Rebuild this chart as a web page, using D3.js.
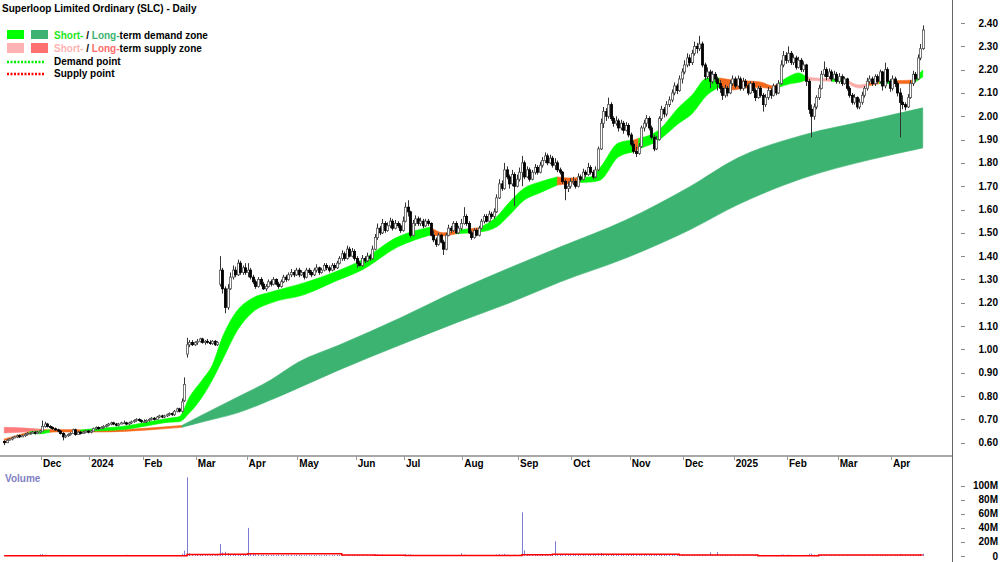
<!DOCTYPE html>
<html>
<head>
<meta charset="utf-8">
<script src="https://cdn.jsdelivr.net/npm/d3@7"></script>
<style>
	body { margin: 0; background: #fff; }
	svg { display: block; font-family: "Liberation Sans", Arial, sans-serif; font-weight: bold; font-size: 10px; }
</style>
</head>
<body>
<svg id="chart" width="1000" height="562"></svg>
<script>
// daily candles per month: [open, high, low, close, volume in M], prices in cents
var nov2023 = [[60.5,61,59,60,1.5],[60,61.5,60,61,1.2],[61,62,61,61.5,1.0],[61.5,62.5,61,62,1.3],[62,63,62,62.5,0.9],
	[62.5,63.5,62,63,1.1],[63,63.5,62,62.5,1.4],[62.5,63.5,62.5,63,1.0],[63,64,62.5,63.5,0.8],[63.5,64.5,63,64,1.2],
	[64,64.5,63.5,64,1.1],[64,65,64,64.5,0.9],[64.5,65,63.5,64,1.0],[64,65,64,64.5,1.3],[64.5,65.5,64,65,2.5]];
var dec2023 = [[65,69.5,65,67,2.8],[67,69,66.5,68,1.8],[68,68.5,66.5,67,1.2],[67,67.5,66,66.5,1.0],[66.5,67,65.5,66,0.9],
	[66,66.5,65,65.5,1.1],[65.5,66,64.5,65,1.0],[65,65.5,63.5,64,1.3],[64,64.5,61,62.5,1.6],[62.5,63.5,62,63,1.2],
	[63,64,62.5,63.5,0.9],[63.5,64.5,63,64,1.0],[64,66,64,65.5,1.1],[65.5,66,63,63.5,1.2],[63.5,65,63.5,64.5,0.9],
	[64.5,65,63.5,64,0.8],[64,65,64,64.5,0.7],[64.5,65.5,64,65,0.9],[65,65.5,64,64.5,0.8]];
var jan2024 = [[64.5,65.5,64,65,1.0],[65,66.5,65,66,1.1],[66,67,65.5,66.5,0.9],[66.5,67,65.5,66,0.8],[66,67,66,66.5,0.9],
	[66.5,67.5,66,67,1.0],[67,68,66.5,67.5,1.2],[67.5,68.5,67,68,1.1],[68,69,67.5,68.5,1.3],[68.5,69,67.5,68,1.0],
	[68,68.5,67,67.5,0.9],[67.5,68.5,67,68,0.8],[68,69,68,68.5,1.0],[68.5,69.5,68,68.5,1.2],[68.5,69,67.5,68,1.9],
	[68,69,67.5,68.5,1.0],[68.5,69.5,68,69,1.1],[69,70,68.5,69.5,1.2],[69.5,70.5,69,70,1.3],[70,70.5,69,69.5,1.0],
	[69.5,70,68.5,69,0.9]];
var feb2024 = [[69,70,68.5,69,1.0],[69,70,68.5,69.5,1.1],[69.5,70.5,69,70,1.0],[70,71,69.5,70.5,1.2],[70.5,71,69.5,70,0.9],
	[70,71.5,70,71,1.1],[71,72,70.5,71.5,1.0],[71.5,72,70.5,71,0.9],[71,72,70.5,71.5,1.0],[71.5,72.5,71,72,1.2],
	[72,73,71.5,72.5,1.1],[72.5,73,71.5,72,1.0],[72,74,71.5,73.5,1.3],[73.5,75,73,74.5,1.5],[74.5,75,73,73.5,1.4],
	[73.5,79,73,77.5,3.0],[78,88,77.5,85,7.5],[98,105,96.5,102,112],[102,104,101,103,4.0],[103,104,101.5,102,2.5],
	[102,103.5,101.5,103,2.0]];
var mar2024 = [[103,104.5,102,103.5,1.8],[103.5,105,103,104.5,1.5],[104.5,105,102.5,103,1.6],[103,104,102,103.5,1.2],[103.5,104.5,102.5,103,1.0],
	[103,104,102,102.5,1.1],[102.5,104,102,103.5,1.3],[103.5,104,101.5,102,1.2],[102,103.5,101.5,103,1.4],[128,140,127,134,17],
	[134,135,124,126,5],[126,127,115.5,118,6],[118,128,117,126,4],[126,133,125.5,131,3],[131,136,130,134,2.5],
	[134,135.5,131,132,2],[132,138.5,131.5,137,2.5],[137,138,132,133,2],[133,136,132,135,1.8],[135,137,132,133,1.6]];
var apr2024 = [[133,137,131,134,40],[134,135,130,131,4],[131,132,128,129,3],[129,130,126,127,2.5],[127,131,126.5,130,2],
	[130,131,127,128,1.8],[128,129,125.5,126,2],[126,128,125,127,1.6],[127,130,126.5,129,1.5],[129,130,127,128,1.4],
	[128,131,127.5,130,1.5],[130,130.5,127.5,128,1.3],[128,129,126,127,1.6],[127,130,126.5,129,1.4],[129,132,128.5,131,1.5],
	[131,132,129,130,1.2],[130,133,129.5,132,1.4],[132,134.5,131,133,1.6],[133,134,131,132,1.3],[132,135,131.5,134,1.5]];
var may2024 = [[134,135,131,132,1.5],[132,134,131.5,133,1.3],[133,133.5,130,131,1.2],[131,135,130.5,134,1.6],[134,135,132,133,1.2],
	[133,134,131,132,1.1],[132,135,131.5,134,1.3],[134,136.5,133,135,1.4],[135,135.5,132,133,1.2],[133,135,132.5,134,1.0],
	[134,137,133.5,136,1.3],[136,137,134,135,1.1],[135,136,133,134,1.0],[134,137,133.5,136,1.2],[136,137,134,135,1.1],
	[135,138,134.5,137,1.4],[137,140,136.5,139,1.6],[139,142.5,138,141,1.8],[141,142,138,139,1.4],[139,144.5,138.5,143,2.0],
	[143,144,139.5,140,1.5],[140,143.5,139.5,142,1.4],[142,143,138,139,1.3]];
var jun2024 = [[139,140,135,137,1.5],[137,138,135.5,136,1.2],[136,140.5,135.5,139,1.4],[139,140,137,138,1.1],[138,141.5,137.5,140,1.3],
	[140,141,138,139,1.1],[139,144.5,138.5,143,1.8],[143,149.5,142.5,148,2.5],[148,154,147,152,2.6],[152,153,149,150,1.7],
	[150,156,149.5,154,2.0],[154,155,150,151,1.5],[151,154.5,150.5,153,1.3],[153,156.5,152,155,1.5],[155,156,151,152,1.3],
	[152,155.5,151.5,154,1.2],[154,155,152,153,1.1],[153,154,150,151,1.2],[151,157,150.5,155,1.6]];
var jul2024 = [[155,163,154.5,161,2.8],[161,164,157,159,2.0],[159,159.5,148,149,2.4],[149,155.5,148.5,154,1.6],[154,157.5,153,156,1.4],
	[156,157,153,154,1.2],[154,156.5,153,155,1.1],[155,156,152,153,1.2],[153,156,152.5,155,1.0],[155,156,153,154,1.1],
	[154,154.5,148.5,149,1.5],[149,151,146,147,1.4],[147,148,144,145,1.3],[145,150,144.5,149,1.2],[149,149.5,145.5,146,1.1],
	[146,147,140.5,143,1.6],[143,150,142.5,149,1.5],[149,153.5,148.5,152,1.3],[152,153,150,151,1.1],[151,155,150.5,154,1.2],
	[154,155,149.5,150,1.1],[150,153,149.5,152,1.0],[152,156,151,154,3.8]];
var aug2024 = [[154,161,153.5,157,1.8],[157,158,153,154,1.4],[154,155,149.5,150,1.3],[150,151,147,148,1.2],[148,152,147.5,151,1.1],
	[151,152,148.5,149,1.0],[149,153,148.5,152,1.1],[152,156,151.5,155,1.3],[155,158,154,157,1.4],[157,158,154.5,155,1.1],
	[155,159.5,154.5,158,1.3],[158,159,156,157,1.0],[157,160.5,156,159,1.2],[159,166.5,158.5,165,2.2],[165,173,164.5,171,2.8],
	[171,172.5,168,169,1.8],[169,180,168.5,177,3.0],[177,178.5,173,174,1.9],[174,175,169,171,1.6],[171,177,170,175,1.5],
	[175,176,161.5,170,2.0],[170,175,169.5,173,1.4]];
var sep2024 = [[173,178,172,176,1.6],[176,183,170,180,62],[180,181,173,174,8],[174,178.5,173.5,177,3],[177,178,172,173,2.2],
	[173,177,172.5,176,1.8],[176,179.5,175,178,1.6],[178,179,175,176,1.4],[176,180.5,175.5,179,1.6],[179,182.5,178,181,1.7],
	[181,184.5,180,183,1.9],[183,184,179,180,1.5],[180,183.5,179.5,182,1.4],[182,183,178,179,1.6],[179,182,177,180,21],
	[180,181,176,177,3],[177,178,175,176,2],[176,176.5,171,172,1.8],[172,173,164,169,2.2],[169,172,167.5,170,1.6],
	[170,173.5,169,172,1.4]];
var oct2024 = [[172,174,170.5,172,1.5],[172,173,169,170,1.3],[170,175.5,169.5,174,1.6],[174,175,172,173,1.2],[173,177.5,172.5,176,1.5],
	[176,177,174,175,1.2],[175,180,174.5,178,1.6],[178,179,175,176,1.3],[176,177,173,174,1.2],[174,178.5,173.5,177,1.4],
	[177,187,176.5,186,3.5],[186,199,185.5,197,4.2],[197,204,195,202,3.0],[202,203.5,198,200,2.2],[200,208,199,205,2.6],
	[205,206,198,199,2.0],[199,200,195.5,197,1.6],[197,200,196,198,1.4],[198,199,193.5,195,1.5],[195,198.5,194,197,1.3],
	[197,198,192.5,194,1.4],[194,197.5,193.5,196,1.2],[196,197,191,192,1.5]];
var nov2024 = [[192,193,187,188,1.6],[188,189.5,184,185,1.5],[185,187,182.5,184,1.7],[184,188.5,183.5,187,1.4],[187,196,186.5,195,2.0],
	[195,198.5,193.5,197,1.7],[197,200.5,195.5,199,1.6],[199,200,194,195,1.5],[195,196,190,191,1.4],[191,192,185,186,1.6],
	[186,191.5,185.5,190,1.5],[190,200,189.5,199,2.0],[199,204.5,198,203,1.9],[203,204,199.5,201,1.5],[201,206.5,200,205,1.6],
	[205,208.5,204,207,1.5],[207,211.5,206,210,1.7],[210,214.5,209,213,1.8],[213,214,209.5,211,1.4],[211,217.5,210.5,216,1.9],
	[216,220.5,214,219,2.0]];
var dec2024 = [[219,224,218,222,2.0],[222,227,221,225,1.8],[225,226.5,221.5,223,1.5],[223,228.5,222,227,1.7],[227,232,226,230,2.0],
	[230,231.5,227,229,1.6],[229,234.5,228,231,2.2],[231,232,221,222,2.4],[222,223,215.5,217,2.0],[217,221,216,219,1.6],
	[219,220,212,215,5.0],[215,219.5,214,218,1.7],[218,219,214.5,216,1.4],[216,217,211,214,5.5],[214,215.5,210,212,1.6],
	[212,213,207,209,1.5],[209,213.5,208,212,1.3],[212,213,208.5,210,1.2],[210,215.5,209.5,214,1.3],[214,217.5,213,216,1.2]];
var jan2025 = [[216,217,212,213,1.2],[213,217.5,212.5,216,1.3],[216,217,211,212,1.2],[212,216.5,211,215,1.1],[215,216,212,213,1.0],
	[213,214,209,210,1.3],[210,215,209.5,214,1.2],[214,215,210,211,1.1],[211,212,206.5,208,1.4],[208,213,207.5,212,1.2],
	[212,213,208,209,1.1],[209,210,202,205,1.6],[205,209.5,204,208,1.3],[208,212.5,207,211,1.2],[211,212,207.5,209,1.0],
	[209,214,208.5,213,1.2],[213,214,209,210,1.1],[210,215.5,209.5,214,1.3],[214,224,213.5,222,2.0],[222,228,221,226,2.2],
	[226,227.5,222.5,224,1.6]];
var feb2025 = [[224,230,223,227,2.0],[227,228,222,223,1.6],[223,226.5,222,225,1.3],[225,226,220,221,1.4],[221,225.5,220.5,224,1.2],
	[224,225,219,220,1.3],[220,223.5,219,222,1.1],[222,222.5,213,215,1.8],[215,216,201,203,3.0],[203,205,191,200,3.5],
	[200,205.5,198.5,204,2.0],[204,209,203,208,1.6],[208,213.5,207,212,1.5],[212,219.5,211.5,218,1.7],[218,223.5,217,220,1.6],
	[220,221,215.5,217,1.3],[217,220.5,216,219,1.2],[219,220,215,216,1.1],[216,219.5,215.5,218,1.2],[218,219,214,215,1.1]];
var mar2025 = [[215,218.5,214,217,1.3],[217,218,213,214,1.2],[214,217,213.5,216,1.1],[216,216.5,211,212,1.3],[212,213,208,209,1.4],
	[209,210,205,206,1.5],[206,209.5,205,208,1.2],[208,208.5,203,204,1.4],[204,207.5,203,206,1.2],[206,210.5,205,209,1.3],
	[209,213,208,212,1.4],[212,216.5,211,215,1.5],[215,217.5,214,216,1.3],[216,217,213,214,1.2],[214,218,213,217,1.3],
	[217,218,214,215,1.1],[215,220,214,219,1.5],[219,219.5,211,213,1.6],[213,223,212,220,1.8],[220,221,214,215,1.4],
	[215,216,210.5,212,1.3]];
var apr2025 = [[212,217.5,211,216,1.4],[216,217,212.5,214,1.3],[214,215,208.5,210,1.6],[210,212,191,206,3.0],[206,209,203,205,2.0],
	[205,206,202.5,204,1.8],[204,209.5,203.5,208,1.6],[208,215.5,207.5,214,1.9],[214,219.5,213,218,2.0],[218,219,214.5,216,1.5],
	[216,226.5,215.5,225,2.4],[225,231,224,229,2.6],[229,239,228.5,237,3.2]];

// ASX trading calendar
var firstDay = "2023-11-10", lastDay = "2025-04-17";
var holidays = ["2023-12-25","2023-12-26","2024-01-01","2024-01-26","2024-03-29","2024-04-01","2024-04-25",
	"2024-06-10","2024-12-25","2024-12-26","2025-01-01","2025-01-27"];

// short-term zone: [date, upper, lower, mode]  d = demand, s = supply, p = pale supply
var shortZone = [
	["2023-11-10",0.616,0.609,"s"],["2023-11-16",0.628,0.621,"s"],["2023-11-24",0.647,0.640,"d"],["2023-11-30",0.650,0.638,"d"],
	["2023-12-06",0.655,0.645,"s"],["2023-12-14",0.656,0.650,"s"],["2023-12-22",0.655,0.649,"d"],["2024-01-08",0.662,0.651,"d"],
	["2024-01-22",0.672,0.658,"d"],["2024-02-05",0.690,0.674,"d"],["2024-02-15",0.705,0.688,"d"],["2024-02-21",0.712,0.690,"d"],
	["2024-02-27",0.796,0.728,"d"],["2024-03-05",0.869,0.796,"d"],["2024-03-11",0.933,0.869,"d"],["2024-03-15",1.053,0.955,"d"],
	["2024-03-25",1.169,1.084,"d"],["2024-04-04",1.221,1.161,"d"],["2024-04-15",1.246,1.199,"d"],["2024-05-03",1.285,1.234,"d"],
	["2024-05-22",1.335,1.295,"d"],["2024-06-05",1.384,1.341,"d"],["2024-06-26",1.482,1.439,"d"],["2024-07-15",1.525,1.491,"s"],
	["2024-07-22",1.500,1.487,"s"],["2024-07-29",1.512,1.496,"d"],["2024-08-06",1.518,1.500,"s"],["2024-08-09",1.522,1.503,"d"],
	["2024-08-20",1.568,1.525,"d"],["2024-08-27",1.630,1.575,"d"],["2024-09-04",1.692,1.641,"d"],["2024-09-12",1.718,1.671,"d"],
	["2024-09-23",1.740,1.705,"s"],["2024-09-30",1.735,1.712,"s"],["2024-10-04",1.738,1.716,"d"],["2024-10-10",1.740,1.718,"d"],
	["2024-10-16",1.782,1.727,"d"],["2024-10-25",1.885,1.825,"d"],["2024-11-04",1.898,1.847,"s"],["2024-11-06",1.905,1.860,"d"],
	["2024-11-18",1.941,1.898,"d"],["2024-11-28",2.040,1.971,"d"],["2024-12-05",2.090,2.010,"d"],["2024-12-13",2.164,2.091,"d"],
	["2024-12-20",2.164,2.126,"s"],["2024-12-31",2.156,2.113,"s"],["2025-01-08",2.152,2.121,"s"],["2025-01-16",2.147,2.124,"s"],
	["2025-01-23",2.130,2.118,"s"],["2025-01-28",2.140,2.123,"d"],["2025-02-04",2.175,2.140,"d"],["2025-02-07",2.186,2.145,"d"],
	["2025-02-12",2.170,2.155,"p"],["2025-02-19",2.163,2.152,"p"],["2025-02-26",2.162,2.150,"d"],["2025-03-06",2.158,2.146,"p"],
	["2025-03-13",2.134,2.121,"p"],["2025-03-18",2.140,2.130,"s"],["2025-03-25",2.150,2.140,"d"],["2025-04-01",2.152,2.140,"s"],
	["2025-04-11",2.155,2.140,"d"],["2025-04-17",2.198,2.168,"d"]
];

// long-term zone: L = wide supply, s = thin supply, D = demand
var longZone = [
	["2023-11-10",0.666,0.642,"L"],["2023-11-20",0.664,0.645,"L"],["2023-11-30",0.658,0.650,"s"],["2023-12-12",0.654,0.646,"s"],
	["2024-01-08",0.654,0.646,"s"],["2024-02-05",0.663,0.655,"s"],["2024-02-22",0.674,0.666,"D"],["2024-03-05",0.719,0.689,"D"],
	["2024-03-25",0.796,0.728,"D"],["2024-04-15",0.869,0.783,"D"],["2024-05-01",0.946,0.835,"D"],["2024-05-23",1.019,0.912,"D"],
	["2024-06-27",1.135,1.019,"D"],["2024-07-30",1.255,1.118,"D"],["2024-08-27",1.349,1.199,"D"],["2024-09-24",1.439,1.289,"D"],
	["2024-10-30",1.555,1.392,"D"],["2024-12-04",1.697,1.512,"D"],["2025-01-03",1.821,1.620,"D"],["2025-02-11",1.920,1.735,"D"],
	["2025-03-19",1.984,1.813,"D"],["2025-04-17",2.036,1.864,"D"]
];

// volume average, stepped [date, M]
var volumeAverage = [["2023-11-10",0.5],["2024-02-26",2.2],["2024-03-14",2.6],["2024-04-02",3.2],["2024-05-24",1.6],
	["2024-06-13",1.0],["2024-07-01",0.6],["2024-09-03",1.8],["2024-09-19",2.6],["2024-11-28",1.3],["2025-01-15",0.5],
	["2025-02-19",1.4],["2025-04-17",1.4]];

var priceTicks = [0.60,0.70,0.80,0.90,1.00,1.10,1.20,1.30,1.40,1.50,1.60,1.70,1.80,1.90,2.00,2.10,2.20,2.30,2.40];
var volumeTicks = [0,20,40,60,80,100];
var volumeTickLabels = ["0","20M","40M","60M","80M","100M"];
var monthLabels = ["Dec","2024","Feb","Mar","Apr","May","Jun","Jul","Aug","Sep","Oct","Nov","Dec","2025","Feb","Mar","Apr"];

var zoneColor = { d: "#00ff00", s: "#f5691d", p: "#f9acaa", L: "#ff7b7b", D: "#3cb371" };

var parseDate = d3.utcParse("%Y-%m-%d");
var fmt = d3.utcFormat("%Y-%m-%d");

// build the list of trading days
function tradingDays() {
	var out = [];
	var d = parseDate(firstDay), end = parseDate(lastDay);
	while (d <= end) {
		var wd = d.getUTCDay();
		if (wd != 0 && wd != 6 && holidays.indexOf(fmt(d)) < 0)
			out.push(d);
		d = d3.utcDay.offset(d, 1);
	}
	return out;
}

var days = tradingDays();
var months = [nov2023, dec2023, jan2024, feb2024, mar2024, apr2024, may2024, jun2024, jul2024, aug2024,
	sep2024, oct2024, nov2024, dec2024, jan2025, feb2025, mar2025, apr2025];
var candles = [];
months.forEach(function(m) {
	m.forEach(function(r) {
		candles.push({ o: r[0] / 100, h: r[1] / 100, l: r[2] / 100, c: r[3] / 100, v: r[4] });
	});
});
candles.forEach(function(c, i) { c.i = i; c.date = days[i]; });

var N = candles.length;
var svg = d3.select("#chart");
var axisX = 952;

var x = d3.scaleLinear().domain([0, N]).range([3, 924]);
var y = d3.scaleLinear().domain([0.60, 2.40]).range([442.7, 23]);
var yVol = d3.scaleLinear().domain([0, 100]).range([556, 485.7]);

// date string -> index of the first trading day on/after it
var bis = d3.bisector(d => d).left;
function dayIndex(s) {
	return Math.min(N - 1, bis(days, parseDate(s)));
}

// split zone knots into runs of the same mode
function zoneRuns(knots) {
	var pts = knots.map(k => ({ i: dayIndex(k[0]), u: k[1], l: k[2], m: k[3] }));
	var runs = [], cur = null;
	for (var j = 0; j < pts.length - 1; j++) {
		if (!cur || cur.m != pts[j].m) {
			if (cur) cur.pts.push(pts[j]);
			cur = { m: pts[j].m, pts: [pts[j]] };
			runs.push(cur);
		} else {
			cur.pts.push(pts[j]);
		}
	}
	cur.pts.push(pts[pts.length - 1]);
	return runs;
}

var zoneArea = d3.area()
	.x(d => x(d.i + 0.5))
	.y0(d => y(d.l))
	.y1(d => y(d.u))
	.curve(d3.curveMonotoneX);

function drawZone(knots) {
	svg.append("g")
		.selectAll("path")
		.data(zoneRuns(knots))
		.enter().append("path")
			.attr("d", r => zoneArea(r.pts))
			.attr("fill", r => zoneColor[r.m])
			.attr("stroke", r => zoneColor[r.m])
			.attr("stroke-width", 0.6);
}

drawZone(longZone);
drawZone(shortZone);

// candles: hollow when up, filled when down
var cg = svg.append("g");
cg.selectAll("line")
	.data(candles)
	.enter().append("line")
		.attr("x1", d => Math.round(x(d.i + 0.5)) + 0.5)
		.attr("x2", d => Math.round(x(d.i + 0.5)) + 0.5)
		.attr("y1", d => y(d.h))
		.attr("y2", d => y(d.l))
		.attr("stroke", "#333")
		.attr("stroke-width", 1);
cg.selectAll("rect")
	.data(candles)
	.enter().append("rect")
		.attr("x", d => Math.round(x(d.i + 0.5)) - 0.6)
		.attr("width", 2.2)
		.attr("y", d => y(Math.max(d.o, d.c)))
		.attr("height", d => Math.max(0.8, Math.abs(y(d.o) - y(d.c))))
		.attr("fill", d => d.c >= d.o ? "#fff" : "#000")
		.attr("stroke", d => d.c >= d.o ? "#555" : "#000")
		.attr("stroke-width", 0.8);

// axes frame
svg.append("line").attr("x1", 0).attr("x2", axisX).attr("y1", 456).attr("y2", 456)
	.attr("stroke", "#a8a8a8").attr("stroke-width", 2);
svg.append("line").attr("x1", axisX + 0.5).attr("x2", axisX + 0.5).attr("y1", 0).attr("y2", 562)
	.attr("stroke", "#666").attr("stroke-width", 1);

// price ticks and labels
var pt = svg.append("g").selectAll("g").data(priceTicks).enter().append("g");
pt.append("line").attr("x1", 961).attr("x2", 965)
	.attr("y1", d => Math.round(y(d)) + 0.5).attr("y2", d => Math.round(y(d)) + 0.5)
	.attr("stroke", "#888");
pt.append("text").attr("x", 998).attr("y", d => y(d)).attr("dy", "0.35em")
	.attr("text-anchor", "end").text(d => d.toFixed(2));

// month ticks and labels
var monthStarts = [];
for (var i = 1; i < N; i++) {
	if (days[i].getUTCMonth() != days[i - 1].getUTCMonth())
		monthStarts.push(i);
}
var mt = svg.append("g").selectAll("g").data(monthStarts).enter().append("g");
mt.append("line").attr("x1", d => Math.round(x(d)) + 0.5).attr("x2", d => Math.round(x(d)) + 0.5)
	.attr("y1", 456).attr("y2", 460).attr("stroke", "#999");
mt.append("text").attr("x", d => x(d) + 2).attr("y", 467).text((d, k) => monthLabels[k]);

// volume panel
svg.append("text").attr("x", 5).attr("y", 482).attr("fill", "#7f7fc4").text("Volume");
svg.append("g").selectAll("line")
	.data(candles)
	.enter().append("line")
		.attr("x1", d => Math.round(x(d.i + 0.5)) + 0.5)
		.attr("x2", d => Math.round(x(d.i + 0.5)) + 0.5)
		.attr("y1", yVol(0))
		.attr("y2", d => yVol(d.v))
		.attr("stroke", "#7b7bd6")
		.attr("stroke-width", 1);

var avgLine = d3.line()
	.x(d => x(dayIndex(d[0]) + 0.5))
	.y(d => yVol(d[1]))
	.curve(d3.curveStepAfter);
svg.append("path").attr("d", avgLine(volumeAverage))
	.attr("fill", "none").attr("stroke", "#ff0000").attr("stroke-width", 1.5);

var vt = svg.append("g").selectAll("g").data(volumeTicks).enter().append("g");
vt.append("line").attr("x1", 961).attr("x2", 965)
	.attr("y1", d => Math.round(yVol(d)) + 0.5).attr("y2", d => Math.round(yVol(d)) + 0.5)
	.attr("stroke", "#888");
vt.append("text").attr("x", 998).attr("y", d => yVol(d)).attr("dy", "0.35em")
	.attr("text-anchor", "end").text((d, k) => volumeTickLabels[k]);

// title and legend
svg.append("text").attr("x", 2).attr("y", 12).text("Superloop Limited Ordinary (SLC) - Daily");

var lg = svg.append("g");
lg.append("rect").attr("x", 7).attr("y", 30).attr("width", 17).attr("height", 9).attr("fill", zoneColor.d);
lg.append("rect").attr("x", 31).attr("y", 30).attr("width", 17).attr("height", 9).attr("fill", zoneColor.D);
lg.append("rect").attr("x", 7).attr("y", 43).attr("width", 17).attr("height", 10).attr("fill", "#ffb3b3");
lg.append("rect").attr("x", 31).attr("y", 43).attr("width", 17).attr("height", 10).attr("fill", "#ff7070");
lg.append("line").attr("x1", 7).attr("x2", 45).attr("y1", 62).attr("y2", 62)
	.attr("stroke", "#00ee00").attr("stroke-width", 2.5).attr("stroke-dasharray", "2,1.5");
lg.append("line").attr("x1", 7).attr("x2", 45).attr("y1", 74).attr("y2", 74)
	.attr("stroke", "#ff0000").attr("stroke-width", 2.5).attr("stroke-dasharray", "2,1.5");

var t1 = lg.append("text").attr("x", 54).attr("y", 39);
t1.append("tspan").attr("fill", "#1ee61e").text("Short-");
t1.append("tspan").text(" / ");
t1.append("tspan").attr("fill", "#3cb371").text("Long-");
t1.append("tspan").text("term demand zone");
var t2 = lg.append("text").attr("x", 54).attr("y", 52);
t2.append("tspan").attr("fill", "#ffb3b3").text("Short-");
t2.append("tspan").text(" / ");
t2.append("tspan").attr("fill", "#ff6b6b").text("Long-");
t2.append("tspan").text("term supply zone");
lg.append("text").attr("x", 54).attr("y", 65).text("Demand point");
lg.append("text").attr("x", 54).attr("y", 77).text("Supply point");
</script>
</body>
</html>
